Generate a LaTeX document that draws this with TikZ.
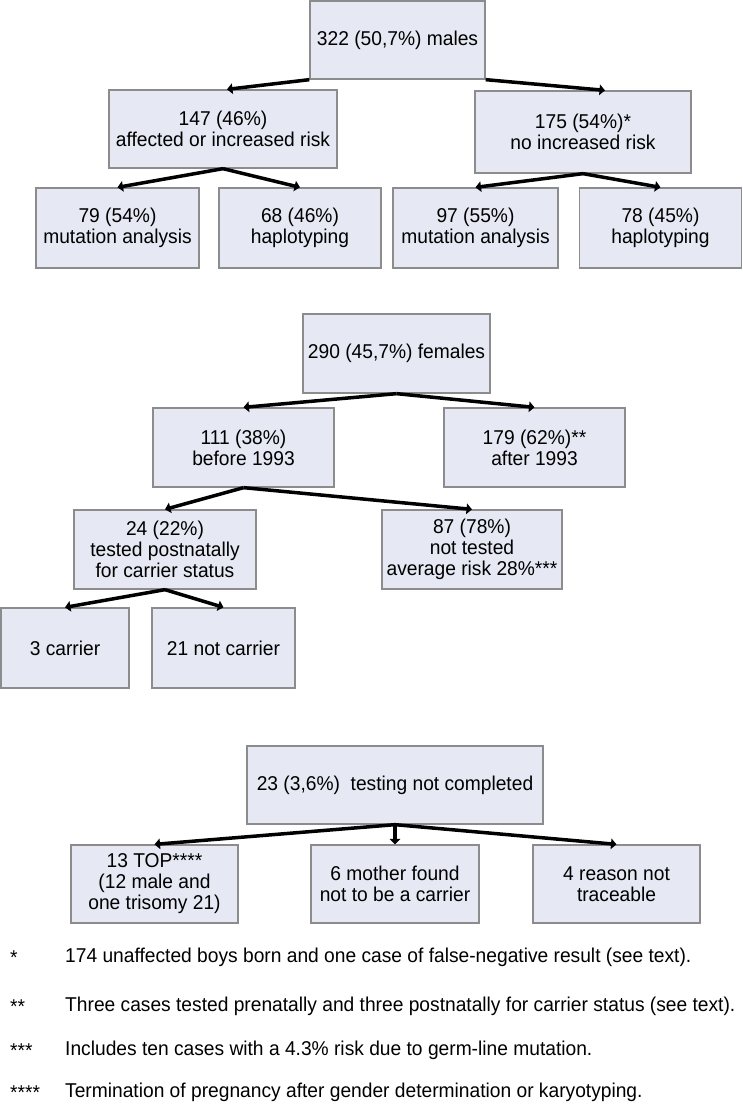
\documentclass[tikz,border=0pt]{standalone}
\usepackage{fontspec}
\setmainfont[FakeStretch=0.96]{Liberation Sans}
\usepackage{tikz}
\usetikzlibrary{arrows.meta}
\definecolor{boxfill}{RGB}{230,233,243}
\definecolor{boxline}{RGB}{140,140,140}

\begin{document}
\begin{tikzpicture}[
		x=1pt,y=-1pt,
		box/.style={rectangle,draw=boxline,fill=boxfill,line width=1.3pt,
			inner sep=0pt,align=center,minimum height=78pt,
			font=\fontsize{20}{21}\selectfont},
		fn/.style={anchor=west,inner sep=0pt,font=\fontsize{20}{21}\selectfont},
		arr/.style={->,line width=3.5pt},
		>={Triangle[length=5.5pt,width=10.5pt]}]
	\useasboundingbox (0,0) rectangle (743,1109);
	%% males
	\node[box,minimum width=175pt] (males) at (397.5,40) {322 (50,7\%) males};
	\node[box,minimum width=228pt] (aff) at (223,129) {147 (46\%)\\affected or increased risk};
	\node[box,minimum width=216pt,minimum height=82pt] (noinc) at (583,132) {175 (54\%)*\\no increased risk};
	\node[box,minimum width=163pt,minimum height=80pt] (mutA) at (117.5,228) {79 (54\%)\\mutation analysis};
	\node[box,minimum width=162pt,minimum height=80pt] (hapA) at (300,228) {68 (46\%)\\haplotyping};
	\node[box,minimum width=165pt,minimum height=80pt] (mutB) at (475.5,228) {97 (55\%)\\mutation analysis};
	\node[box,minimum width=162pt,minimum height=80pt] (hapB) at (660.5,228) {78 (45\%)\\haplotyping};
	\draw[arr] (males.south west) -- ([xshift=4pt]aff.north);
	\draw[arr] (males.south east) -- ([xshift=22pt]noinc.north);
	\draw[arr] (aff.south) -- (mutA.north);
	\draw[arr] (aff.south) -- (hapA.north);
	\draw[arr] (noinc.south) -- (mutB.north);
	\draw[arr] (noinc.south) -- (hapB.north);
	%% females
	\node[box,minimum width=187pt,minimum height=79pt] (fem) at (396.5,353.5) {290 (45,7\%) females};
	\node[box,minimum width=181pt,minimum height=79pt] (bef) at (243.5,447.5) {111 (38\%)\\before 1993};
	\node[box,minimum width=181pt,minimum height=79pt] (aft) at (534.5,447.5) {179 (62\%)**\\after 1993};
	\node[box,minimum width=182pt,minimum height=79pt] (tested) at (165,549.5) {24 (22\%)\\tested postnatally\\for carrier status};
	\node[box,minimum width=180pt,minimum height=79pt] (nottested) at (472,549.5) {87 (78\%)\\not tested\\average risk 28\%***};
	\node[box,minimum width=128pt,minimum height=80pt] (carrier) at (65,648) {3 carrier};
	\node[box,minimum width=143pt,minimum height=80pt] (notcarrier) at (223.5,648) {21 not carrier};
	\draw[arr] (fem.south) -- (bef.north);
	\draw[arr] (fem.south) -- (aft.north);
	\draw[arr] (bef.south) -- (tested.north);
	\draw[arr] (bef.south) -- (nottested.north);
	\draw[arr] (tested.south) -- (carrier.north);
	\draw[arr] (tested.south) -- (notcarrier.north);
	%% not completed
	\node[box,minimum width=296pt] (tnc) at (395,785) {23 (3,6\%)\ \ testing not completed};
	\node[box,minimum width=167pt] (top) at (154.5,884) {13 TOP****\\(12 male and\\one trisomy 21)};
	\node[box,minimum width=168pt] (mother) at (395,884) {6 mother found\\not to be a carrier};
	\node[box,minimum width=167pt] (reason) at (616.5,884) {4 reason not\\traceable};
	\draw[arr] (tnc.south) -- (top.north);
	\draw[arr] (tnc.south) -- (mother.north);
	\draw[arr] (tnc.south) -- (reason.north);
	%% footnotes
	\node[fn] (s1) at (10,958) {*};
	\node[fn] (n1) at (65,957) {174 unaffected boys born and one case of false-negative result (see text).};
	\node[fn] (s2) at (10,1007) {**};
	\node[fn] (n2) at (65,1006) {Three cases tested prenatally and three postnatally for carrier status (see text).};
	\node[fn] (s3) at (10,1051) {***};
	\node[fn] (n3) at (65,1050) {Includes ten cases with a 4.3\% risk due to germ-line mutation.};
	\node[fn] (s4) at (10,1093) {****};
	\node[fn] (n4) at (65,1092) {Termination of pregnancy after gender determination or karyotyping.};
\end{tikzpicture}
\end{document}
